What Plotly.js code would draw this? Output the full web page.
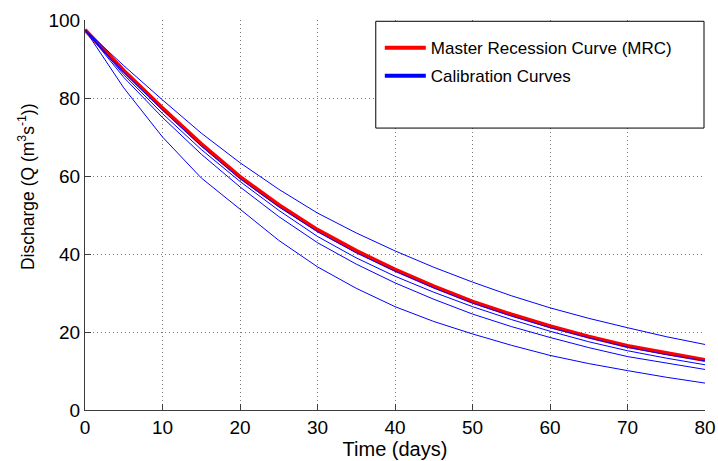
<!DOCTYPE html>
<html>
<head>
<meta charset="utf-8">
<script src="https://cdn.plot.ly/plotly-3.0.1.min.js"></script>
<style>html,body{margin:0;padding:0;background:#fff;}</style>
</head>
<body>
<div id="chart" style="width:718px;height:461px;"></div>
<script>
// Time axis (days)
var days = [0, 5, 10, 15, 20, 25, 30, 35, 40, 45, 50, 55, 60, 65, 70, 75, 80];

// Master Recession Curve (MRC)
var mrc = [97.5, 87.0, 77.4, 68.2, 59.8, 52.6, 46.2, 40.8, 36.0, 31.7, 27.8, 24.5, 21.5, 18.8, 16.4, 14.5, 12.8];

// Calibration curves
var cal1 = [97.5, 88.3, 79.5, 71.0, 63.4, 56.6, 50.5, 45.4, 40.8, 36.6, 32.8, 29.3, 26.2, 23.5, 21.1, 18.8, 16.8];
var cal2 = [97.5, 86.6, 76.9, 67.7, 59.3, 52.1, 45.7, 40.3, 35.6, 31.3, 27.4, 24.1, 21.1, 18.5, 16.1, 14.2, 12.6];
var cal3 = [97.5, 86.0, 76.0, 66.8, 58.6, 51.2, 44.5, 39.0, 34.3, 30.2, 26.5, 23.2, 20.2, 17.5, 15.2, 13.3, 11.6];
var cal4 = [97.5, 85.3, 75.0, 65.6, 57.2, 49.6, 42.9, 37.4, 32.6, 28.4, 24.6, 21.4, 18.6, 16.0, 13.7, 12.0, 10.4];
var cal5 = [97.5, 82.6, 70.0, 59.5, 51.5, 43.5, 36.7, 31.2, 26.5, 22.7, 19.5, 16.6, 14.0, 11.9, 10.1, 8.4, 6.9];
var calCurves = [cal1, cal2, cal3, cal4, cal5];

var mrcName = 'Master Recession Curve (MRC)';
var calName = 'Calibration Curves';
var xTitle = 'Time (days)';
var yTitle = 'Discharge (Q (m<sup>3</sup>s<sup>-1</sup>))';

var FONT = '"Liberation Sans", Arial, Helvetica, sans-serif';

var traces = [];
traces.push({
  x: days, y: mrc, type: 'scatter', mode: 'lines',
  name: mrcName, legendgroup: 'mrc',
  line: {color: '#ff0000', width: 4}
});
calCurves.forEach(function (c) {
  traces.push({
    x: days, y: c, type: 'scatter', mode: 'lines',
    name: calName, legendgroup: 'cal', showlegend: false,
    line: {color: '#0000ff', width: 1}
  });
});
// legend entry for calibration curves (thick line sample, no data drawn)
traces.push({
  x: [null], y: [null], type: 'scatter', mode: 'lines',
  name: calName, legendgroup: 'cal', showlegend: true,
  line: {color: '#0000ff', width: 4}, hoverinfo: 'skip'
});

var axisCommon = {
  showline: true, linecolor: '#3c3c3c', linewidth: 1,
  ticks: 'inside', ticklen: 6, tickcolor: '#3c3c3c', tickwidth: 1,
  showgrid: true, gridcolor: '#7a7a7a', gridwidth: 1, griddash: '1px,3px',
  zeroline: false, mirror: false,
  tickfont: {family: FONT, size: 19, color: '#000'}
};

var layout = {
  width: 718, height: 461,
  margin: {l: 85, r: 13, t: 20, b: 51, pad: 0},
  paper_bgcolor: '#fff', plot_bgcolor: '#fff',
  font: {family: FONT, color: '#000'},
  showlegend: true,
  xaxis: Object.assign({}, axisCommon, {
    range: [0, 80], tick0: 0, dtick: 10,
    title: {text: xTitle, font: {family: FONT, size: 20, color: '#000'}, standoff: 3}
  }),
  yaxis: Object.assign({}, axisCommon, {
    range: [0, 100], tick0: 0, dtick: 20
  }),
  legend: {
    x: 0.4755, y: 0.974, xanchor: 'left', yanchor: 'top',
    bgcolor: 'rgba(0,0,0,0)', borderwidth: 0,
    font: {family: FONT, size: 17, color: '#000'},
    traceorder: 'grouped', tracegroupgap: 3, itemwidth: 41
  },
  shapes: [{
    type: 'rect', xref: 'paper', yref: 'paper',
    x0: 0.469, x1: 0.9984, y0: 0.7229, y1: 0.9967,
    line: {color: '#000', width: 1}, fillcolor: '#fff', layer: 'above'
  }],
  annotations: [{
    text: yTitle, textangle: -90, showarrow: false,
    xref: 'paper', yref: 'paper', x: -0.095, y: 0.572,
    xanchor: 'center', yanchor: 'middle',
    font: {family: FONT, size: 17.5, color: '#000'}
  }]
};

Plotly.newPlot('chart', traces, layout, {displayModeBar: false, staticPlot: true});
</script>
</body>
</html>
